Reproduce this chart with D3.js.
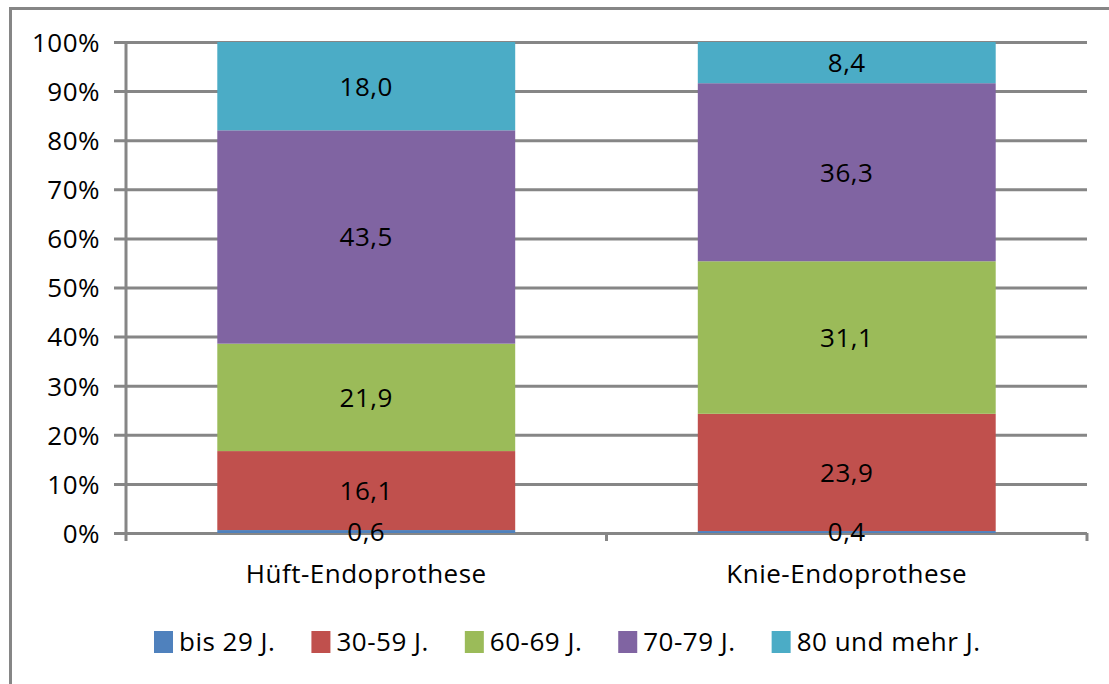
<!DOCTYPE html>
<html>
<head>
<meta charset="utf-8">
<script src="https://cdn.jsdelivr.net/npm/d3@7/dist/d3.min.js"></script>
<style>
  html, body { margin: 0; padding: 0; background: #fff; }
  svg { display: block; font-family: "Open Sans", sans-serif; }
  .lbl { font-size: 26px; letter-spacing: 0.5px; fill: #000; }
</style>
</head>
<body>
<svg id="chart" width="1109" height="684"></svg>
<script>
// Altersverteilung der Patienten nach Eingriff (Anteile in %)
const categories = ["Hüft-Endoprothese", "Knie-Endoprothese"];
const ageGroups = ["bis 29 J.", "30-59 J.", "60-69 J.", "70-79 J.", "80 und mehr J."];
const bis29 = [0.6, 0.4];
const j30_59 = [16.1, 23.9];
const j60_69 = [21.9, 31.1];
const j70_79 = [43.5, 36.3];
const j80plus = [18.0, 8.4];
const yTicks = [0, 0.1, 0.2, 0.3, 0.4, 0.5, 0.6, 0.7, 0.8, 0.9, 1.0];

const seriesValues = [bis29, j30_59, j60_69, j70_79, j80plus];
const colors = ["#4F81BD", "#C0504D", "#9BBB59", "#8064A2", "#4BACC6"];
const gridColor = "#868686";

const svg = d3.select("#chart");

// Outer chart frame
svg.append("rect")
  .attr("x", 10.5).attr("y", 8.5)
  .attr("width", 1120).attr("height", 700)
  .attr("fill", "none")
  .attr("stroke", gridColor)
  .attr("stroke-width", 3);

const plot = { left: 126, right: 1087, top: 42, bottom: 533 };

const x = d3.scaleBand()
  .domain(categories)
  .range([plot.left, plot.right])
  .paddingInner(0.38)
  .paddingOuter(0.19);

const y = d3.scaleLinear().domain([0, 1]).range([plot.bottom, plot.top]);

// Rows for stacking
const rows = categories.map((c, i) => {
  const r = { category: c };
  ageGroups.forEach((g, k) => { r[g] = seriesValues[k][i]; });
  return r;
});

const stacked = d3.stack()
  .keys(ageGroups)
  .offset(d3.stackOffsetExpand)(rows);

// Horizontal gridlines with left tick marks
const yAxis = d3.axisLeft(y)
  .tickValues(yTicks)
  .tickSize(0)
  .tickFormat(d => Math.round(d * 100) + "%");

const yG = svg.append("g")
  .attr("transform", `translate(${plot.left},0)`)
  .call(yAxis);
yG.select(".domain").remove();
yG.selectAll(".tick line")
  .attr("x1", -12)
  .attr("x2", plot.right - plot.left)
  .attr("stroke", gridColor)
  .attr("stroke-width", 3);
yG.selectAll(".tick text")
  .attr("class", "lbl")
  .attr("x", -26)
  .attr("dy", "0.36em")
  .attr("text-anchor", "end")
  .style("font-family", "'Open Sans', sans-serif")
  .style("font-size", "26px");

// Vertical axis line
svg.append("line")
  .attr("x1", plot.left).attr("x2", plot.left)
  .attr("y1", plot.top).attr("y2", plot.bottom + 8)
  .attr("stroke", gridColor).attr("stroke-width", 3);

// Category boundary ticks below the baseline
const boundaries = [plot.left + (plot.right - plot.left) / 2, plot.right];
svg.selectAll("line.cat-tick")
  .data(boundaries)
  .join("line")
  .attr("class", "cat-tick")
  .attr("x1", d => d).attr("x2", d => d)
  .attr("y1", plot.bottom).attr("y2", plot.bottom + 8)
  .attr("stroke", gridColor).attr("stroke-width", 3);

// Stacked bars
const layers = svg.append("g").selectAll("g")
  .data(stacked)
  .join("g")
  .attr("fill", (d, i) => colors[i]);

layers.selectAll("rect")
  .data(d => d)
  .join("rect")
  .attr("x", d => x(d.data.category))
  .attr("width", x.bandwidth())
  .attr("y", d => y(d[1]))
  .attr("height", d => y(d[0]) - y(d[1]));

// Value labels centred in each segment
const fmt = v => v.toFixed(1).replace(".", ",");
const labels = svg.append("g");
stacked.forEach(layer => {
  layer.forEach(d => {
    labels.append("text")
      .attr("class", "lbl")
      .attr("x", x(d.data.category) + x.bandwidth() / 2)
      .attr("y", y((d[0] + d[1]) / 2))
      .attr("dy", "0.36em")
      .attr("text-anchor", "middle")
      .text(fmt(d.data[layer.key]));
  });
});

// Category labels
svg.append("g").selectAll("text")
  .data(categories)
  .join("text")
  .attr("class", "lbl")
  .attr("x", d => x(d) + x.bandwidth() / 2)
  .attr("y", 583)
  .attr("text-anchor", "middle")
  .text(d => d);

// Legend
const legend = svg.append("g");
let lx = 154;
ageGroups.forEach((g, i) => {
  legend.append("rect")
    .attr("x", lx).attr("y", 631)
    .attr("width", 19).attr("height", 22)
    .attr("fill", colors[i]);
  const t = legend.append("text")
    .attr("class", "lbl")
    .attr("x", lx + 25).attr("y", 651)
    .text(g);
  lx += 25 + t.node().getComputedTextLength() + 36;
});
</script>
</body>
</html>
